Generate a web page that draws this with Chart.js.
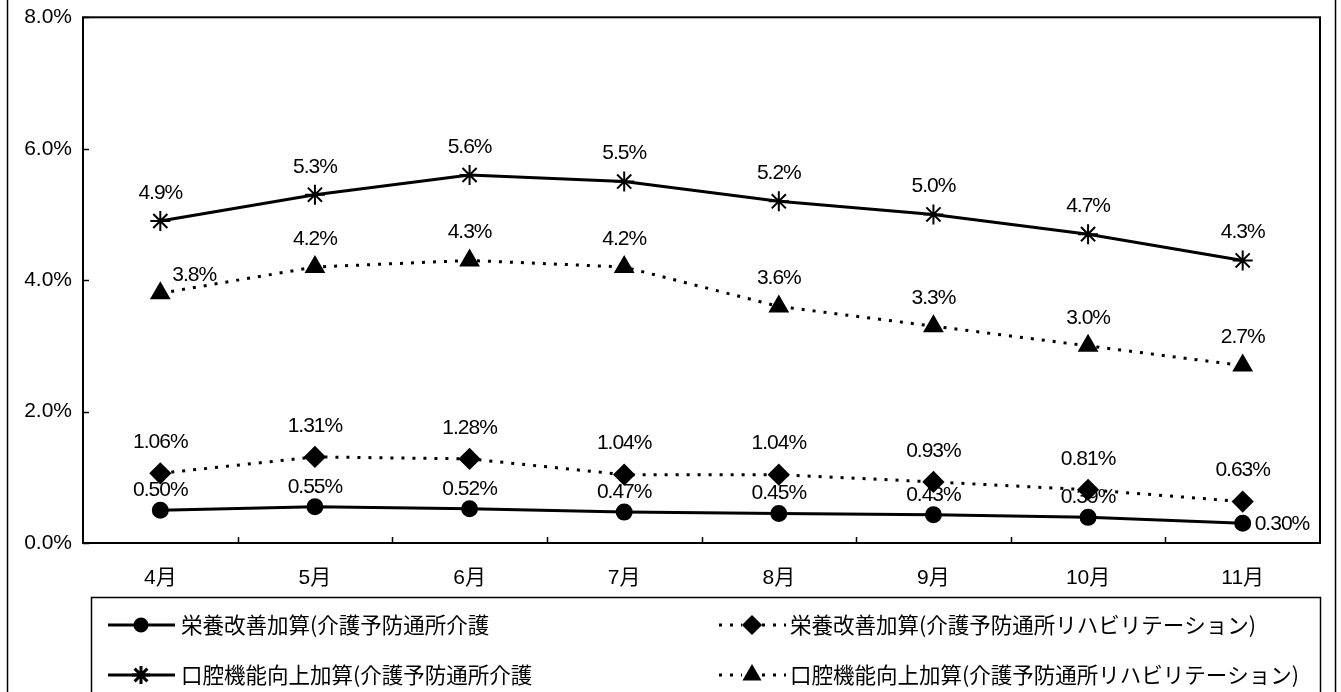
<!DOCTYPE html>
<html>
<head>
<meta charset="utf-8">
<script src="https://cdn.jsdelivr.net/npm/chart.js@4/dist/chart.umd.min.js"></script>
<style>
  html, body { margin: 0; padding: 0; background: #fff; }
  #wrap { position: relative; width: 1341px; height: 692px; }
</style>
</head>
<body>
<div id="wrap"><canvas id="kasan" width="1341" height="692"></canvas></div>
<script>
  // 月別 加算算定率
  const months = ['4月', '5月', '6月', '7月', '8月', '9月', '10月', '11月'];
  const eiyoTsusho = [0.50, 0.55, 0.52, 0.47, 0.45, 0.43, 0.39, 0.30];
  const eiyoReha = [1.06, 1.31, 1.28, 1.04, 1.04, 0.93, 0.81, 0.63];
  const kokuTsusho = [4.9, 5.3, 5.6, 5.5, 5.2, 5.0, 4.7, 4.3];
  const kokuReha = [3.8, 4.2, 4.3, 4.2, 3.6, 3.3, 3.0, 2.7];
  const yTicks = [0, 2, 4, 6, 8];

  const seriesNames = [
    '栄養改善加算(介護予防通所介護',
    '栄養改善加算(介護予防通所リハビリテーション)',
    '口腔機能向上加算(介護予防通所介護',
    '口腔機能向上加算(介護予防通所リハビリテーション)'
  ];

  const numFont = '21px "Liberation Sans", Arial, sans-serif';
  const jpFont = '21.5px "Noto Sans CJK JP", sans-serif';

  function drawMarker(ctx, style, r, x, y) {
    if (Chart.helpers && Chart.helpers.drawPoint) {
      Chart.helpers.drawPoint(ctx, { pointStyle: style, radius: r, borderWidth: 2, rotation: 0 }, x, y);
    }
  }

  // labels, legend, frame
  const decor = {
    id: 'decor',
    beforeDraw(chart) {
      const ctx = chart.ctx;
      ctx.save();
      ctx.strokeStyle = '#000';
      ctx.lineWidth = 1.5;
      ctx.beginPath();
      ctx.moveTo(7.5, 0); ctx.lineTo(7.5, 692);
      ctx.moveTo(1335.5, 0); ctx.lineTo(1335.5, 692);
      ctx.stroke();
      ctx.restore();
    },
    afterDatasetsDraw(chart) {
      const ctx = chart.ctx;
      const a = chart.chartArea;
      ctx.save();
      // plot box
      ctx.strokeStyle = '#000';
      ctx.lineWidth = 2;
      ctx.strokeRect(a.left, a.top, a.right - a.left, a.bottom - a.top);
      // inner ticks
      ctx.lineWidth = 1.5;
      ctx.beginPath();
      const ys = chart.scales.y;
      yTicks.forEach(v => {
        const py = Math.round(ys.getPixelForValue(v)) + 0.5;
        ctx.moveTo(a.left, py); ctx.lineTo(a.left + 6, py);
      });
      const xs = chart.scales.x;
      const half = (xs.getPixelForValue(1) - xs.getPixelForValue(0)) / 2;
      for (let i = 1; i < months.length; i++) {
        const px = Math.round(xs.getPixelForValue(i) - half) + 0.5;
        ctx.moveTo(px, a.bottom); ctx.lineTo(px, a.bottom - 6);
      }
      ctx.stroke();

      // data labels
      ctx.fillStyle = '#000';
      ctx.font = numFont;
      if ('letterSpacing' in ctx) ctx.letterSpacing = '-1px';
      ctx.textBaseline = 'middle';
      chart.data.datasets.forEach((ds, di) => {
        const meta = chart.getDatasetMeta(di);
        meta.data.forEach((pt, i) => {
          let dx = 0, dy = ds.labelDy, align = 'center';
          const ex = (ds.labelAt || {})[i];
          if (ex) { dx = ex[0]; dy = ex[1]; align = 'left'; }
          ctx.textAlign = align;
          ctx.fillText(ds.data[i].toFixed(ds.decimals) + '%', pt.x + dx, pt.y + dy);
        });
      });
      ctx.restore();
    },
    afterDraw(chart) {
      const ctx = chart.ctx;
      ctx.save();
      ctx.strokeStyle = '#000';
      ctx.lineWidth = 1.5;
      ctx.strokeRect(91.5, 597.5, 1229, 120);

      const rows = [625, 675];
      const cols = [{ x0: 108, x1: 175, mx: 141, tx: 181 }, { x0: 719, x1: 786, mx: 752, tx: 790 }];
      chart.data.datasets.forEach((ds, di) => {
        const c = cols[di % 2];
        const y = rows[Math.floor(di / 2)];
        ctx.save();
        ctx.strokeStyle = '#000';
        ctx.lineWidth = ds.borderWidth;
        ctx.setLineDash(ds.borderDash || []);
        ctx.beginPath();
        ctx.moveTo(c.x0, y); ctx.lineTo(c.mx - 10, y);
        ctx.moveTo(c.mx + 10, y); ctx.lineTo(c.x1, y);
        ctx.stroke();
        ctx.setLineDash([]);
        ctx.fillStyle = '#000';
        drawMarker(ctx, ds.pointStyle, ds.pointRadius - 1, c.mx, y);
        if (!ds.borderDash) {
          ctx.lineWidth = ds.borderWidth;
          ctx.beginPath();
          ctx.moveTo(c.mx - 10, y); ctx.lineTo(c.mx + 10, y);
          ctx.stroke();
        }
        ctx.font = jpFont;
        ctx.textAlign = 'left';
        ctx.textBaseline = 'middle';
        ctx.fillText(seriesNames[di], c.tx, y);
        ctx.restore();
      });
      ctx.restore();
    }
  };

  const black = '#000';
  new Chart(document.getElementById('kasan'), {
    type: 'line',
    data: {
      labels: months,
      datasets: [
        { data: eiyoTsusho, borderColor: black, backgroundColor: black, borderWidth: 3, pointStyle: 'circle', pointRadius: 7, decimals: 2, labelDy: -20, labelAt: { 7: [12, 1] } },
        { data: eiyoReha, borderColor: black, backgroundColor: black, borderWidth: 3, borderDash: [3, 8], pointStyle: 'rectRot', pointRadius: 9, decimals: 2, labelDy: -31 },
        { data: kokuTsusho, borderColor: black, backgroundColor: black, borderWidth: 3, pointStyle: 'star', pointRadius: 10, pointBorderWidth: 2, decimals: 1, labelDy: -28 },
        { data: kokuReha, borderColor: black, backgroundColor: black, borderWidth: 3, borderDash: [3, 8], pointStyle: 'triangle', pointRadius: 9, decimals: 1, labelDy: -28, labelAt: { 0: [12, -18] } }
      ]
    },
    options: {
      responsive: false,
      animation: false,
      events: [],
      layout: { padding: { top: 15, right: 21, left: 0, bottom: 0 } },
      plugins: { legend: { display: false }, tooltip: { enabled: false } },
      elements: { line: { tension: 0, fill: false }, point: { borderWidth: 1 } },
      scales: {
        x: {
          offset: true,
          grid: { display: false, drawTicks: false },
          border: { display: false },
          ticks: { color: black, font: { family: '"Liberation Sans", "Noto Sans CJK JP", sans-serif', size: 21 }, padding: 23 },
          afterFit: s => { s.height = 692 - 543; }
        },
        y: {
          min: 0, max: 8,
          afterBuildTicks: s => { s.ticks = yTicks.map(v => ({ value: v })); },
          grid: { display: false, drawTicks: false },
          border: { display: false },
          ticks: { color: black, font: { family: '"Liberation Sans", Arial, sans-serif', size: 21, lineHeight: 0.6 }, padding: 11, callback: v => v.toFixed(1) + '%' },
          afterFit: s => { s.width = 83; }
        }
      }
    },
    plugins: [decor]
  });
</script>
</body>
</html>
